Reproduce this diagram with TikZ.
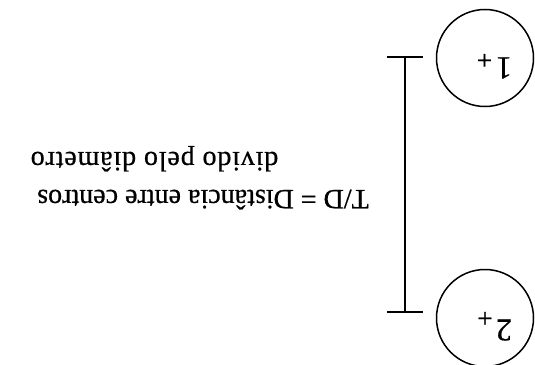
\documentclass[tikz,border=0pt]{standalone}
\usepackage{fontspec}
\setmainfont{Liberation Serif}[FakeBold=0.6]
\begin{document}
\begin{tikzpicture}[x=1pt,y=-1pt,
  tube/.style={circle,draw,line width=1.5pt,minimum size=97pt,inner sep=0pt},
  centremark/.style={font=\fontsize{27}{27}\selectfont,inner sep=0pt,rotate=180},
  lbl/.style={font=\fontsize{32}{32}\selectfont,inner sep=0pt,rotate=180},
  txt/.style={font=\fontsize{28}{28}\selectfont,inner sep=0pt,rotate=180,anchor=base},
  dim/.style={line width=1.5pt}]
\useasboundingbox (0,0) rectangle (535,364);
% two tubes with their centre marks
\node[tube] (c1) at (485,58) {};
\node[tube] (c2) at (485,318) {};
\node[centremark] (p1) at (484.5,59) {+};
\node[lbl] (n1) at (504,68) {1};
\node[centremark] (p2) at (485,317) {+};
\node[lbl] (n2) at (504,330) {2};
% distance between centres
\coordinate (t) at (405,57);
\coordinate (b) at (405,312);
\draw[dim] (t) -- (b);
\draw[dim] ([xshift=-18pt]t) -- ([xshift=18pt]t);
\draw[dim] ([xshift=-18pt]b) -- ([xshift=18pt]b);
% explanation
\node[txt] (l1) at (203,190) {T/D = Distância entre centros};
\node[txt] (l2) at (154.5,152) {\addfontfeatures{LetterSpace=3}divido pelo diâmetro};
\end{tikzpicture}
\end{document}
